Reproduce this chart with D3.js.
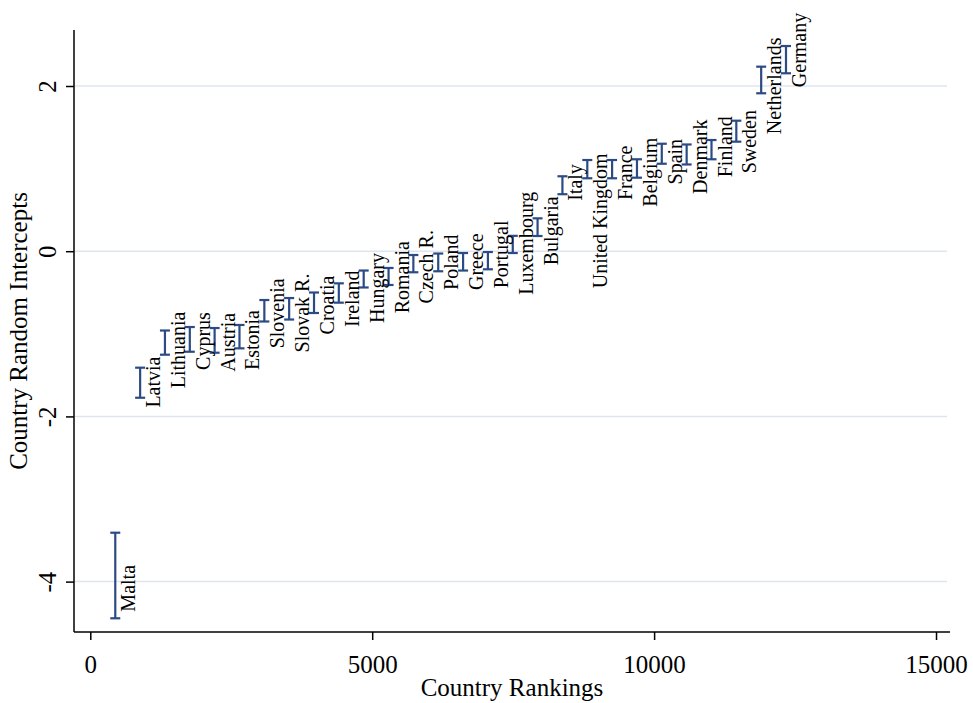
<!DOCTYPE html>
<html>
<head>
<meta charset="utf-8">
<script src="https://cdn.jsdelivr.net/npm/d3@7"></script>
<style>
  html, body { margin: 0; padding: 0; background: #ffffff; }
  svg { display: block; }
  text { font-family: "Liberation Serif", "Times New Roman", serif; fill: #000; }
</style>
</head>
<body>
<svg id="chart" width="973" height="703"></svg>
<script>
const countries = ["Malta","Latvia","Lithuania","Cyprus","Austria","Estonia","Slovenia","Slovak R.","Croatia","Ireland","Hungary","Romania","Czech R.","Poland","Greece","Portugal","Luxembourg","Bulgaria","Italy","United Kingdom","France","Belgium","Spain","Denmark","Finland","Sweden","Netherlands","Germany"];
const rankings = [443, 884, 1324, 1765, 2205, 2646, 3087, 3527, 3968, 4408, 4849, 5290, 5730, 6171, 6612, 7052, 7493, 7933, 8374, 8815, 9255, 9696, 10136, 10577, 11018, 11458, 11899, 12339];
const ciUpper = [-3.408, -1.410, -0.960, -0.918, -0.930, -0.893, -0.591, -0.567, -0.500, -0.389, -0.234, -0.203, -0.046, -0.028, -0.022, -0.010, 0.186, 0.398, 0.907, 1.104, 1.104, 1.113, 1.301, 1.292, 1.346, 1.580, 2.234, 2.484];
const ciLower = [-4.444, -1.774, -1.253, -1.217, -1.229, -1.176, -0.851, -0.827, -0.748, -0.623, -0.439, -0.409, -0.255, -0.243, -0.234, -0.219, -0.022, 0.184, 0.690, 0.883, 0.883, 0.890, 1.059, 1.050, 1.113, 1.326, 1.912, 2.154];
const labelAt = [-4.081, -1.584, -1.196, -1.087, -1.102, -1.075, -0.752, -0.748, -0.651, -0.576, -0.446, -0.315, -0.188, -0.133, -0.127, -0.039, 0.096, 0.247, 0.832, 0.368, 0.949, 0.956, 1.084, 1.144, 1.265, 1.326, 2.002, 2.436];
const xTicks = [0, 5000, 10000, 15000];
const yTicks = [-4, -2, 0, 2];
const xTitle = "Country Rankings";
const yTitle = "Country Random Intercepts";

const data = countries.map((c, i) => ({ name: c, x: rankings[i], lo: ciLower[i], hi: ciUpper[i], lab: labelAt[i] }));

const svg = d3.select("#chart");
const mLeft = 74, mRight = 950, mTop = 30, mBottom = 632;
const x = d3.scaleLinear().domain([-289, 15248]).range([mLeft, mRight]);
const y = d3.scaleLinear().domain([-4.610, 2.678]).range([mBottom, mTop]);

const barColor = "#2c4a84";
const gridColor = "#dfe5ee";
const plainFmt = d => String(d);

// gridlines
svg.append("g").selectAll("line").data(yTicks).join("line")
  .attr("x1", mLeft + 1).attr("x2", mRight - 3)
  .attr("y1", d => y(d)).attr("y2", d => y(d))
  .attr("stroke", gridColor).attr("stroke-width", 1.5);

// y axis
const yAxis = svg.append("g").attr("transform", `translate(${mLeft},0)`)
  .call(d3.axisLeft(y).tickValues(yTicks).tickSize(8).tickFormat(plainFmt));
yAxis.select(".domain").attr("d", `M0,${mTop}V${mBottom}`).attr("stroke", "#000").attr("stroke-width", 1.5);
yAxis.selectAll(".tick line").attr("stroke", "#000").attr("stroke-width", 1.5);
yAxis.selectAll(".tick text")
  .attr("x", null).attr("dy", null)
  .attr("transform", "translate(-18,0) rotate(-90)")
  .attr("text-anchor", "middle")
  .style("font-size", "25px")
  .style("font-family", "Liberation Serif");

// x axis
const xAxis = svg.append("g").attr("transform", `translate(0,${mBottom})`)
  .call(d3.axisBottom(x).tickValues(xTicks).tickSize(8).tickFormat(plainFmt));
xAxis.select(".domain").attr("d", `M${mLeft},0H${mRight}`).attr("stroke", "#000").attr("stroke-width", 1.5);
xAxis.selectAll(".tick line").attr("stroke", "#000").attr("stroke-width", 1.5);
xAxis.selectAll(".tick text")
  .attr("y", 41).attr("dy", null)
  .style("font-size", "25px")
  .style("font-family", "Liberation Serif");

// axis titles
svg.append("text")
  .attr("x", (mLeft + mRight) / 2).attr("y", 696)
  .attr("text-anchor", "middle")
  .style("font-size", "25px")
  .text(xTitle);
svg.append("text")
  .attr("transform", `translate(27,${(mTop + mBottom) / 2}) rotate(-90)`)
  .attr("text-anchor", "middle")
  .style("font-size", "25px")
  .text(yTitle);

// CI bars
const bars = svg.append("g").attr("stroke", barColor).attr("stroke-width", 2.2).attr("fill", "none");
const cap = 5;
bars.selectAll("line.v").data(data).join("line").attr("class", "v")
  .attr("x1", d => x(d.x)).attr("x2", d => x(d.x))
  .attr("y1", d => y(d.hi)).attr("y2", d => y(d.lo));
bars.selectAll("line.t").data(data).join("line").attr("class", "t")
  .attr("x1", d => x(d.x) - cap).attr("x2", d => x(d.x) + cap)
  .attr("y1", d => y(d.hi)).attr("y2", d => y(d.hi));
bars.selectAll("line.b").data(data).join("line").attr("class", "b")
  .attr("x1", d => x(d.x) - cap).attr("x2", d => x(d.x) + cap)
  .attr("y1", d => y(d.lo)).attr("y2", d => y(d.lo));

// labels
svg.append("g").selectAll("text").data(data).join("text")
  .attr("transform", d => `translate(${x(d.x) + 20},${y(d.lab)}) rotate(-90)`)
  .attr("text-anchor", "middle")
  .style("font-size", "20px")
  .text(d => d.name);
</script>
</body>
</html>
